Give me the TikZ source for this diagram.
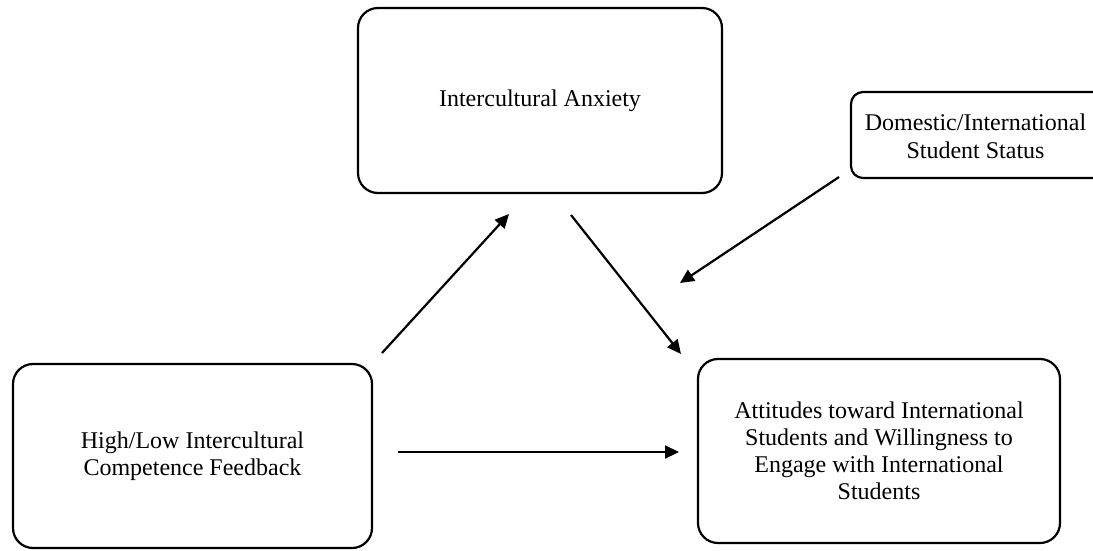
\documentclass[tikz,border=0pt]{standalone}
\usepackage{fontspec}
\setmainfont{Liberation Serif}
\usetikzlibrary{arrows.meta}
\begin{document}
\begin{tikzpicture}[x=1pt,y=-1pt,
  box/.style={draw, line width=2.2pt, rounded corners=20pt, align=center,
    font=\fontsize{24}{27}\selectfont, inner sep=0pt},
  lbl/.style={align=center, font=\fontsize{24}{28}\selectfont, inner sep=0pt},
  link/.style={line width=2.2pt, -{Triangle[length=14pt,width=13pt]}}]
\useasboundingbox (0,0) rectangle (1093,550);
\clip (0,0) rectangle (1093,550);
\node[box, minimum width=364pt, minimum height=185pt] (anx) at (540,100.5) {Intercultural Anxiety};
\node[box, rounded corners=12pt, minimum width=280pt, minimum height=86pt] (dom) at (991,135) {};
\node[lbl] (domtxt) at (975.5,136) {Domestic/International\\Student Status};
\node[box, minimum width=359pt, minimum height=184pt] (fb) at (192.5,456) {High/Low Intercultural\\Competence Feedback};
\node[box, minimum width=362pt, minimum height=184pt] (att) at (879,451) {Attitudes toward International\\Students and Willingness to\\Engage with International\\Students};
\coordinate (a1s) at (382,353);
\coordinate (a1e) at (509,214);
\coordinate (a2s) at (571,215);
\coordinate (a2e) at (681,354);
\coordinate (a3s) at (839,177);
\coordinate (a3e) at (680,283);
\coordinate (a4s) at (398,452);
\coordinate (a4e) at (679,452);
\draw[link] (a1s) -- (a1e);
\draw[link] (a2s) -- (a2e);
\draw[link] (a3s) -- (a3e);
\draw[link] (a4s) -- (a4e);
\end{tikzpicture}
\end{document}
